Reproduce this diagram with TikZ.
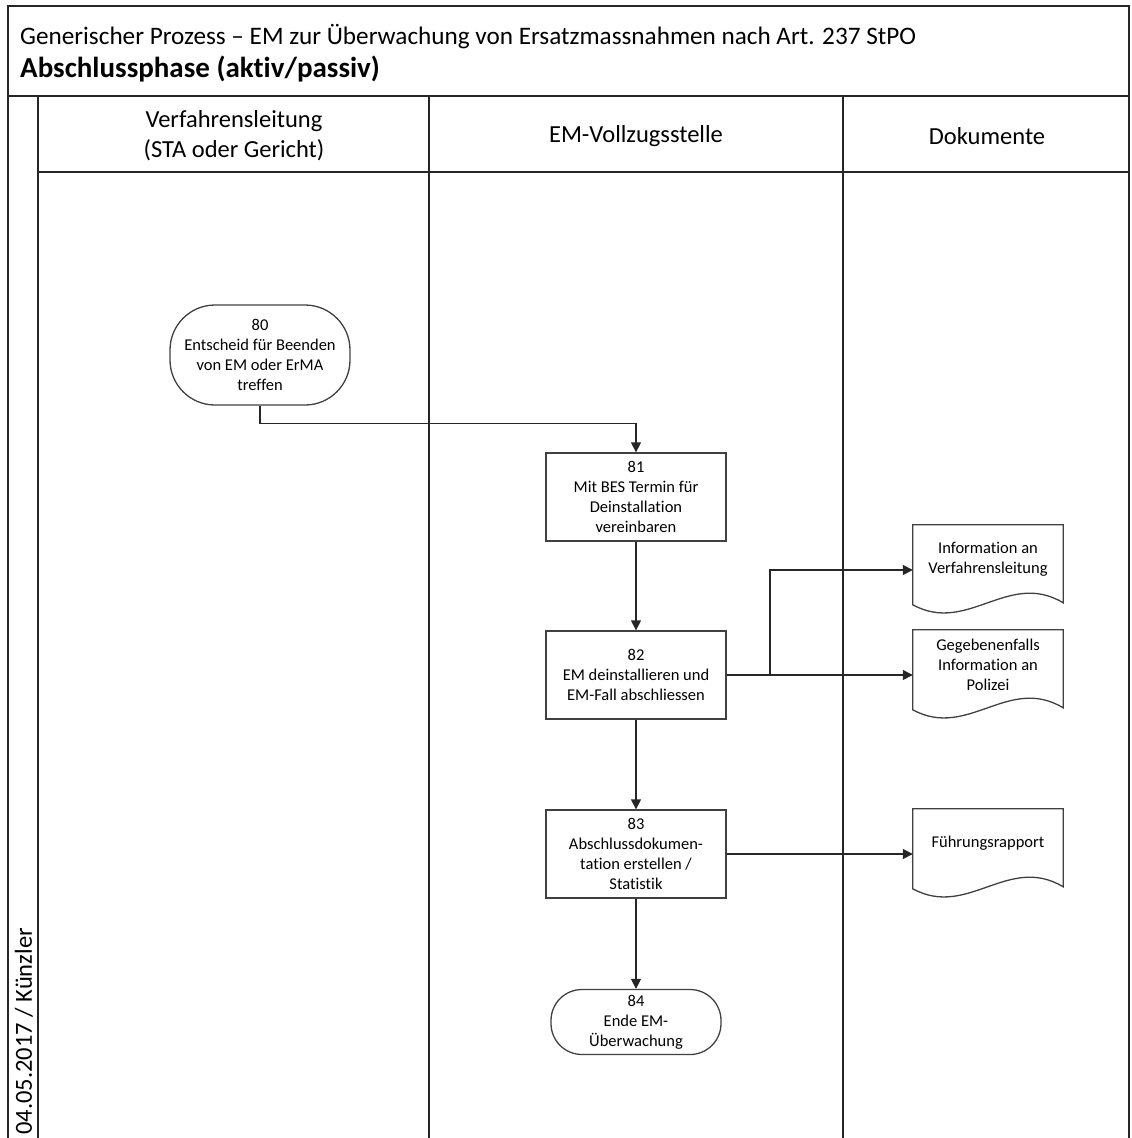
\documentclass[tikz,border=0pt]{standalone}
\usepackage{fontspec}
\setmainfont[Ligatures=NoCommon]{Carlito}
\usetikzlibrary{arrows.meta,calc}
\newcommand\ndfont{\fontsize{16.5}{20}\selectfont}
\newcommand\hdfont{\fontsize{24.5}{30}\selectfont}
\newcommand\docoutline[1]{%
  \draw[boxline] ($(#1.north west)+(0,80)$) -- (#1.north west) -- (#1.north east)
    -- ($(#1.north east)+(0,78)$)
    .. controls ($(#1.north east)+(-55,45)$) and ($(#1.north west)+(55,110)$) .. ($(#1.north west)+(0,80)$) -- cycle;}
\begin{document}
\begin{tikzpicture}[x=1pt,y=-1pt,
  frameline/.style={line width=1.8pt, draw=black!85},
  boxline/.style={line width=1.3pt, draw=black!75},
  proc/.style={boxline, minimum width=180pt, minimum height=88pt, align=center, font=\ndfont, inner sep=2pt},
  term/.style={boxline, align=center, font=\ndfont, inner sep=2pt},
  docbox/.style={minimum width=150pt, minimum height=90pt, inner sep=0pt},
  txt/.style={align=center, font=\ndfont},
  hdr/.style={align=center, font=\hdfont},
  flow/.style={line width=1.3pt, draw=black!85, -{Triangle[length=10pt,width=10pt]}},
]
\useasboundingbox (0,0) rectangle (1132,1138);
% frame and lanes
\draw[frameline] (8,1138) -- (8,6) -- (1129,6) -- (1129,1138);
\draw[frameline] (8,96) -- (1129,96);
\draw[frameline] (38,96) -- (38,1138);
\draw[frameline] (38,172) -- (1129,172);
\draw[frameline] (429,96) -- (429,1138);
\draw[frameline] (843,96) -- (843,1138);
% titles
\node[anchor=west, font=\fontsize{25.2}{30}\selectfont, inner sep=0pt] (t1) at (20,37) {Generischer Prozess – EM zur Überwachung von Ersatzmassnahmen nach Art. 237 StPO};
\node[anchor=west, font=\fontsize{29}{34}\selectfont\bfseries, inner sep=0pt] (t2) at (20,69) {Abschlussphase (aktiv/passiv)};
\node[hdr] (h1) at (234,136) {Verfahrensleitung\\(STA oder Gericht)};
\node[hdr] (h2) at (636,136) {EM-Vollzugsstelle};
\node[hdr] (h3) at (987,136) {Dokumente};
\node[rotate=90, anchor=east, font=\hdfont, inner sep=0pt] (dt) at (24,928) {04.05.2017 / Künzler};
% process nodes
\node[term, minimum width=180pt, minimum height=100pt, rounded corners=45pt] (n80) at (260,355) {80\\Entscheid für Beenden\\von EM oder ErMA\\treffen};
\node[proc] (n81) at (636,497) {81\\Mit BES Termin für\\Deinstallation\\vereinbaren};
\node[proc] (n82) at (636,675) {82\\EM deinstallieren und\\EM-Fall abschliessen};
\node[proc] (n83) at (636,854) {83\\Abschlussdokumen-\\tation erstellen /\\Statistik};
\node[term, minimum width=170pt, minimum height=65pt, rounded corners=31pt] (n84) at (636,1022) {84\\Ende EM-\\Überwachung};
% documents
\node[docbox] (d1) at (988,570) {};
\docoutline{d1}
\node[txt] (d1t) at ([yshift=11pt]d1.center) {Information an\\Verfahrensleitung};
\node[docbox] (d2) at (988,675) {};
\docoutline{d2}
\node[txt] (d2t) at ([yshift=10pt]d2.center) {Gegebenenfalls\\Information an\\Polizei};
\node[docbox] (d3) at (988,854) {};
\docoutline{d3}
\node[txt] (d3t) at ([yshift=11pt]d3.center) {Führungsrapport};
% connectors
\coordinate (br) at (770,675);
\draw[flow] (n80.south) -- ++(0,18) -| (n81.north);
\draw[flow] (n81) -- (n82);
\draw[flow] (n82) -- (n83);
\draw[flow] (n83) -- (n84);
\draw[flow] (n82.east) -- (br) |- (d1.west);
\draw[flow] (br) -- (d2.west);
\draw[flow] (n83.east) -- (d3.west);
\end{tikzpicture}
\end{document}
